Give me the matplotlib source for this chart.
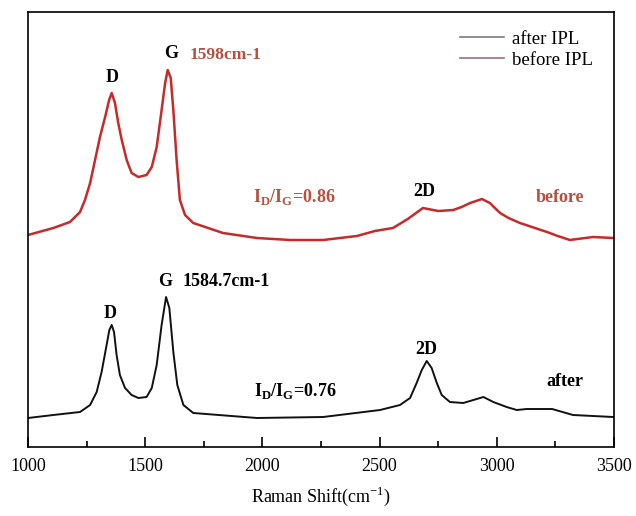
import matplotlib
matplotlib.use("Agg")
import matplotlib.pyplot as plt
from matplotlib.ticker import MultipleLocator

plt.rcParams['font.family'] = ['Liberation Serif', 'DejaVu Serif']
plt.rcParams['mathtext.fontset'] = 'custom'
plt.rcParams['mathtext.rm'] = 'Liberation Serif:bold'
plt.rcParams['mathtext.bf'] = 'Liberation Serif:bold'

# Raman shift (cm-1) and intensity (arbitrary units, offset stacked)
before_x = [1000, 1108, 1179, 1222, 1243, 1265, 1286, 1307, 1329, 1346, 1357, 1371,
            1385, 1400, 1421, 1442, 1471, 1506, 1528, 1549, 1570, 1585, 1596, 1609,
            1620, 1634, 1648, 1670, 1705, 1832, 1977, 2118, 2259, 2403, 2480, 2557,
            2620, 2685, 2750, 2814, 2850, 2886, 2937, 2970, 3014, 3050, 3099, 3150,
            3214, 3260, 3312, 3410, 3496]
before_y = [212, 219, 225, 235, 247, 264, 287, 310, 330, 347, 354, 344,
            324, 307, 287, 274, 270, 272, 280, 300, 337, 364, 377, 369,
            337, 287, 247, 232, 224, 214, 209, 207, 207, 211, 216, 219,
            228, 239, 236, 237, 240, 244, 248, 244, 234, 229, 224, 220,
            215, 211, 207, 210, 209]

after_x = [1000, 1108, 1222, 1265, 1293, 1314, 1333, 1347, 1357, 1367, 1378, 1392,
           1414, 1442, 1471, 1506, 1528, 1549, 1570, 1589, 1603, 1620, 1637, 1663,
           1705, 1977, 2259, 2502, 2587, 2630, 2658, 2680, 2701, 2722, 2744, 2765,
           2800, 2857, 2900, 2943, 2985, 3042, 3085, 3128, 3236, 3325, 3496]
after_y = [29, 32, 35, 42, 55, 75, 99, 117, 122, 115, 92, 72,
           59, 52, 49, 50, 59, 82, 122, 150, 139, 95, 62, 42,
           34, 29, 30, 37, 42, 49, 64, 77, 86, 79, 64, 52,
           45, 44, 47, 50, 45, 40, 37, 38, 38, 32, 30]

x_ticks = [1000, 1500, 2000, 2500, 3000, 3500]
series_labels = ['after IPL', 'before IPL']

red = '#c62a2a'
red_text = '#b5503e'

fig = plt.figure(figsize=(6.36, 5.16), dpi=100)
ax = fig.add_axes([28/636, (516-447)/516, (614-28)/636, (447-12)/516])

l_after, = ax.plot(after_x, after_y, color='#111111', lw=1.4, label=series_labels[0])
l_before, = ax.plot(before_x, before_y, color=red, lw=1.8, label=series_labels[1])

ax.set_xlim(1000, 3500)
ax.set_ylim(0, 435)
ax.set_yticks([])
ax.set_xticks(x_ticks)
ax.xaxis.set_minor_locator(MultipleLocator(250))
ax.tick_params(axis='x', which='major', direction='in', length=7, width=1.2,
               labelsize=13, pad=8)
ax.tick_params(axis='x', which='minor', direction='in', length=4, width=1.2)
for s in ax.spines.values():
    s.set_linewidth(1.2)
ax.set_xlabel('Raman Shift(cm$^{\\mathregular{-1}}$)', fontsize=13, labelpad=7)

leg = ax.legend(handles=[l_after, l_before], loc='upper left',
                bbox_to_anchor=(0.738, 0.957), frameon=False, fontsize=13.5,
                handlelength=2.3, handletextpad=0.45, labelspacing=0.2,
                borderpad=0, borderaxespad=0)
for h, c in zip(leg.legend_handles, ['#7a7a7a', '#9c7078']):
    h.set_color(c)
    h.set_linewidth(1.2)

fb = dict(fontsize=13, fontweight='bold', ha='center', va='center')
# before annotations
ax.text(1360, 369, 'D', color='black', **fb)
ax.text(1612, 393, 'G', color='black', **fb)
ax.text(1691, 392, '1598cm-1', color=red_text, fontsize=12.5, fontweight='bold',
        ha='left', va='center')
ax.text(2135, 250, 'I$_{\\mathregular{D}}$/I$_{\\mathregular{G}}$=0.86', color=red_text,
        fontsize=13, fontweight='bold', ha='center', va='center')
ax.text(2690, 255, '2D', color='black', **fb)
ax.text(3270, 249, 'before', color=red_text, **fb)
# after annotations
ax.text(1350, 134, 'D', color='black', **fb)
ax.text(1587, 166, 'G', color='black', **fb)
ax.text(1661, 165, '1584.7cm-1', color='black', fontsize=13, fontweight='bold',
        ha='left', va='center')
ax.text(2139, 56, 'I$_{\\mathregular{D}}$/I$_{\\mathregular{G}}$=0.76', color='black',
        fontsize=13, fontweight='bold', ha='center', va='center')
ax.text(2697, 97, '2D', color='black', **fb)
ax.text(3290, 66, 'after', color='black', **fb)

fig.savefig('out.png', dpi=100)
